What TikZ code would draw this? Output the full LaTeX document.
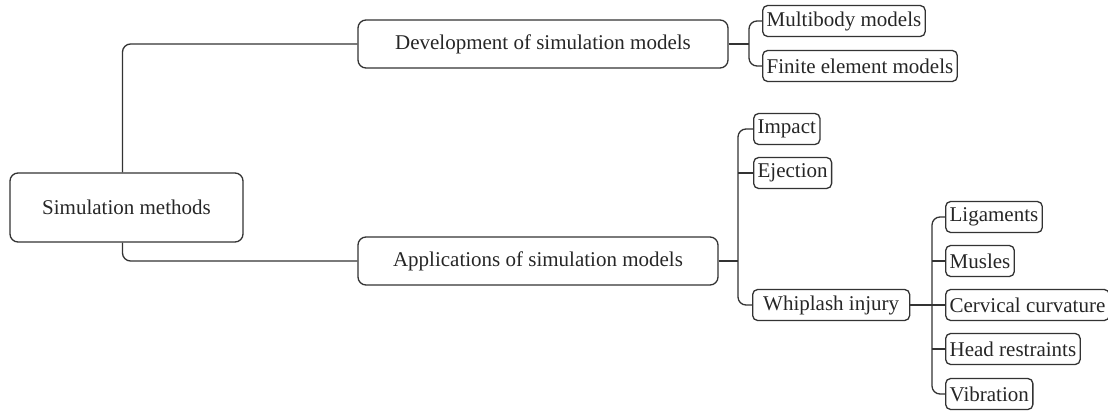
\documentclass[tikz,border=0pt]{standalone}
\usepackage{fontspec}
\setmainfont{Liberation Serif}
\usetikzlibrary{positioning}

\begin{document}
\begin{tikzpicture}[x=0.5pt,y=-0.5pt,line width=0.65pt,
			base node/.style={draw=black!80,rounded corners=4pt,text=black!85,font=\fontsize{10.5}{12.5}\selectfont},
			main node/.style={base node,minimum width=180pt,minimum height=24pt},
			leaf node/.style={base node,rounded corners=2.5pt,anchor=west,inner xsep=2pt,inner ysep=1pt,minimum height=15.5pt},
			link/.style={draw=black!80,rounded corners=4pt}]

			\useasboundingbox (0,0) rectangle (1108,411);

			\node[base node,minimum width=116.5pt,minimum height=34.5pt] (root) at (126.5,207.5) {Simulation methods};
			\node[main node,minimum width=185pt] (dev) at (543,44) {Development of simulation models};
			\node[main node] (app) at (538,261) {Applications of simulation models};

			\node[leaf node] (multi) at (762,21) {Multibody models};
			\node[leaf node] (fem) at (762,66) {Finite element models};

			\node[leaf node] (impact) at (753,129) {Impact};
			\node[leaf node] (eject) at (753,173) {Ejection};
			\node[leaf node,minimum width=78.5pt] (whip) at (752,305) {Whiplash injury};

			\node[leaf node] (lig) at (945,217) {Ligaments};
			\node[leaf node] (mus) at (945,261) {Musles};
			\node[leaf node] (cerv) at (945,305) {Cervical curvature};
			\node[leaf node] (head) at (945,349) {Head restraints};
			\node[leaf node] (vib) at (945,394) {Vibration};

			\coordinate (devbus) at (749,44);
			\coordinate (appbus) at (738,261);
			\coordinate (whipbus) at (932,305);

			% root to the two main branches
			\draw[link] ([xshift=-2pt]root.north) |- (dev.west);
			\draw[link] ([xshift=-2pt]root.south) |- (app.west);

			% development
			\draw[link] (dev.east) -- (devbus);
			\draw[link] (multi.west) -| (devbus) |- (fem.west);

			% applications
			\draw[link] (app.east) -- (appbus);
			\draw[link] (impact.west) -| (appbus) |- (whip.west);
			\draw[link] (eject.west) -- (eject.west -| appbus);

			% whiplash
			\draw[link] (whip.east) -- (cerv.west);
			\draw[link] (lig.west) -| (whipbus) |- (vib.west);
			\draw[link] (mus.west) -- (mus.west -| whipbus);
			\draw[link] (head.west) -- (head.west -| whipbus);

		\end{tikzpicture}
\end{document}
